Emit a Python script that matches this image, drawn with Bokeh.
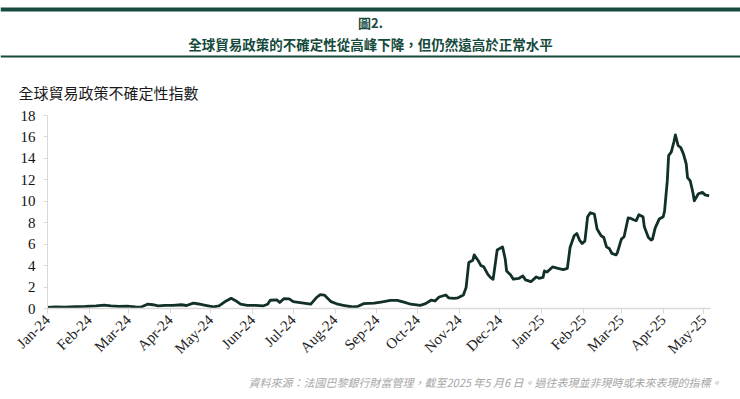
from math import pi

import pandas as pd
from bokeh.core.properties import value
from bokeh.embed import file_html
from bokeh.layouts import column
from bokeh.models import (ColumnDataSource, DatetimeTickFormatter, FixedTicker,
                          MonthsTicker, Range1d)
from bokeh.plotting import figure
from bokeh.resources import INLINE

# ---------------- data ----------------
title_num = "圖2."
title_text = "全球貿易政策的不確定性從高峰下降，但仍然遠高於正常水平"
y_label = "全球貿易政策不確定性指數"
source_note = "資料來源：法國巴黎銀行財富管理，截至2025 年5 月6 日。過往表現並非現時或未來表現的指標。"

dates = ["2024-01-01", "2024-01-07", "2024-01-14", "2024-01-22", "2024-01-29",
         "2024-02-06", "2024-02-12", "2024-02-17", "2024-02-23", "2024-02-29",
         "2024-03-06", "2024-03-10", "2024-03-15", "2024-03-19", "2024-03-23", "2024-03-28",
         "2024-04-03", "2024-04-09", "2024-04-13", "2024-04-18", "2024-04-22", "2024-04-27",
         "2024-05-03", "2024-05-07", "2024-05-11", "2024-05-16", "2024-05-19", "2024-05-23", "2024-05-28",
         "2024-06-03", "2024-06-09", "2024-06-12", "2024-06-14", "2024-06-19", "2024-06-21", "2024-06-24", "2024-06-28",
         "2024-07-01", "2024-07-06", "2024-07-14", "2024-07-18", "2024-07-21", "2024-07-24", "2024-07-29",
         "2024-08-03", "2024-08-07", "2024-08-14", "2024-08-18", "2024-08-22", "2024-08-30",
         "2024-09-04", "2024-09-11", "2024-09-16", "2024-09-21", "2024-09-26",
         "2024-10-03", "2024-10-07", "2024-10-11", "2024-10-14", "2024-10-17", "2024-10-22", "2024-10-24", "2024-10-28", "2024-10-31",
         "2024-11-04", "2024-11-06", "2024-11-08", "2024-11-11", "2024-11-12", "2024-11-15", "2024-11-17", "2024-11-19",
         "2024-11-22", "2024-11-24", "2024-11-26", "2024-11-27", "2024-11-29",
         "2024-12-03", "2024-12-05", "2024-12-06", "2024-12-09", "2024-12-11", "2024-12-15", "2024-12-18", "2024-12-20",
         "2024-12-24", "2024-12-28", "2024-12-30",
         "2025-01-02", "2025-01-03", "2025-01-05", "2025-01-09", "2025-01-13", "2025-01-17", "2025-01-20", "2025-01-22",
         "2025-01-25", "2025-01-27", "2025-01-29", "2025-01-31",
         "2025-02-02", "2025-02-04", "2025-02-06", "2025-02-09", "2025-02-11", "2025-02-14", "2025-02-16", "2025-02-18",
         "2025-02-20", "2025-02-22", "2025-02-25", "2025-02-26",
         "2025-03-01", "2025-03-03", "2025-03-06", "2025-03-08", "2025-03-10", "2025-03-12", "2025-03-14", "2025-03-17",
         "2025-03-18", "2025-03-21", "2025-03-23", "2025-03-24", "2025-03-26", "2025-03-29",
         "2025-04-01", "2025-04-02", "2025-04-04", "2025-04-05", "2025-04-07", "2025-04-09", "2025-04-10", "2025-04-12",
         "2025-04-14", "2025-04-16", "2025-04-18", "2025-04-19", "2025-04-21", "2025-04-23", "2025-04-24", "2025-04-27",
         "2025-04-30", "2025-05-02", "2025-05-05"]

index_values = [0.10, 0.15, 0.12, 0.18, 0.20,
                0.25, 0.32, 0.25, 0.20, 0.22,
                0.15, 0.12, 0.40, 0.35, 0.25, 0.30,
                0.30, 0.35, 0.28, 0.50, 0.42, 0.30,
                0.15, 0.25, 0.60, 0.95, 0.75, 0.40, 0.30,
                0.30, 0.25, 0.40, 0.77, 0.80, 0.55, 0.92, 0.90,
                0.64, 0.55, 0.40, 1.00, 1.30, 1.25, 0.64,
                0.40, 0.30, 0.14, 0.20, 0.45, 0.50,
                0.60, 0.75, 0.75, 0.60, 0.40,
                0.30, 0.45, 0.77, 0.70, 1.07, 1.26, 1.00, 0.95, 1.00,
                1.26, 1.95, 4.30, 4.50, 5.00, 4.45, 4.00, 3.90,
                3.20, 2.90, 2.73, 3.60, 5.45,
                5.75, 4.60, 3.50, 3.13, 2.73, 2.80, 3.04, 2.67,
                2.50, 2.95, 2.82,
                2.90, 3.50, 3.40, 3.88, 3.75, 3.63, 3.75, 5.69,
                6.78, 7.00, 6.38, 6.06,
                6.30, 8.56, 8.93, 8.81, 7.41, 6.78, 6.62, 5.75,
                5.60, 5.13, 5.00, 5.20,
                6.47, 6.69, 8.44, 8.40, 8.28, 8.19, 8.75, 8.56,
                7.62, 6.62, 6.38, 6.45, 7.50, 8.34,
                8.56, 9.12, 11.90, 14.26, 14.60, 15.60, 16.20, 15.20,
                15.00, 14.40, 13.50, 12.20, 11.90, 10.80, 10.05, 10.70,
                10.83, 10.60, 10.50]

y_ticks = [0, 2, 4, 6, 8, 10, 12, 14, 16, 18]
x_start = "2024-01-01"
x_end = "2025-05-06"

# ---------------- styles ----------------
GREEN = "#154a3c"
LINE = "#12302a"
AXIS = "#d9d9d9"
W = 740
SERIF = "Liberation Serif"
CJK = "Noto Sans CJK TC"


def panel(height):
    fig = figure(width=W, height=height, x_range=Range1d(0, W),
                 y_range=Range1d(height, 0), x_axis_type=None,
                 y_axis_type=None, toolbar_location=None,
                 output_backend="svg", min_border=0,
                 outline_line_color=None)
    fig.grid.visible = False
    fig.frame_align = False
    return fig


# ---------------- header ----------------
h = panel(106)
h.quad(left=[0, 0], right=[W, W], top=[7, 55], bottom=[11, 57],
       fill_color=GREEN, line_color=None)
h.text(x=[370], y=[22], text=[title_num], text_align="center",
       text_baseline="middle", text_font=value(CJK), text_font_size="13px",
       text_font_style="bold", text_color=GREEN)
h.text(x=[370], y=[43], text=[title_text], text_align="center",
       text_baseline="middle", text_font=value(CJK), text_font_size="13.5px",
       text_font_style="bold", text_color=GREEN)
h.text(x=[18], y=[91.5], text=[y_label], text_align="left",
       text_baseline="middle", text_font=value(CJK), text_font_size="15px",
       text_color="#1a1a1a")

# ---------------- main chart ----------------
src = ColumnDataSource(dict(date=pd.to_datetime(dates), v=index_values))
p = figure(width=W, height=259, x_axis_type="datetime",
           x_range=Range1d(pd.Timestamp(x_start), pd.Timestamp(x_end)),
           y_range=Range1d(y_ticks[0], y_ticks[-1]),
           toolbar_location=None, output_backend="svg",
           min_border_left=47, min_border_right=30, min_border_top=9,
           min_border_bottom=57, outline_line_color=None)
p.frame_align = False
p.grid.visible = False
p.line("date", "v", source=src, line_color=LINE, line_width=2.8,
       line_join="round")

xa = p.xaxis[0]
xa.ticker = MonthsTicker(months=list(range(12)))
fmt = "%b-%y"
xa.formatter = DatetimeTickFormatter(months=fmt, days=fmt, years=fmt,
                                     hours=fmt, minutes=fmt)
xa.major_label_orientation = pi / 4
xa.axis_line_color = AXIS
xa.axis_line_width = 1.5
xa.major_tick_line_color = AXIS
xa.major_tick_out = 5
xa.major_tick_in = 0
xa.minor_tick_line_color = None
xa.major_label_text_font = SERIF
xa.major_label_text_font_size = "15px"
xa.major_label_text_color = "#222222"
xa.major_label_standoff = 4

ya = p.yaxis[0]
ya.ticker = FixedTicker(ticks=y_ticks)
ya.axis_line_color = AXIS
ya.major_tick_line_color = AXIS
ya.major_tick_out = 4
ya.major_tick_in = 0
ya.minor_tick_line_color = None
ya.major_label_text_font = SERIF
ya.major_label_text_font_size = "15px"
ya.major_label_text_color = "#111111"
ya.major_label_standoff = 8

# ---------------- footer ----------------
f = panel(34)
f.text(x=[721], y=[16], text=[source_note], text_align="right",
       text_baseline="middle", text_font=value(CJK), text_font_size="11px",
       text_font_style="italic", text_color="#a6a6a6")

layout = column(h, p, f, spacing=0)
open("out.html", "w").write(file_html(layout, INLINE))
